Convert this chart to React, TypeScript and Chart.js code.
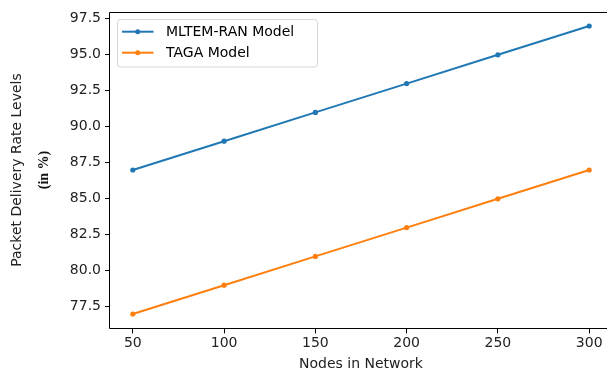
import React, { useEffect, useRef } from "react";
import { Chart, registerables } from "chart.js";

Chart.register(...registerables);

const nodes = [50, 100, 150, 200, 250, 300];
const mltemRan = [87, 89, 91, 93, 95, 97];
const taga = [77, 79, 81, 83, 85, 87];
const xTicks = [50, 100, 150, 200, 250, 300];
const yTicks = [77.5, 80, 82.5, 85, 87.5, 90, 92.5, 95, 97.5];
const seriesNames = ["MLTEM-RAN Model", "TAGA Model"];
const seriesColors = ["#1f77b4", "#ff7f0e"];

const FONT = "'DejaVu Sans', sans-serif";

const framePlugin = {
  id: "frame",
  afterDraw(chart: any) {
    const { ctx, chartArea } = chart;
    const l = Math.round(chartArea.left) - 0.5;
    const t = Math.round(chartArea.top) + 0.5;
    const b = Math.round(chartArea.bottom) + 0.5;
    ctx.save();
    ctx.strokeStyle = "#000";
    ctx.lineWidth = 1;
    ctx.beginPath();
    ctx.moveTo(chartArea.right, t);
    ctx.lineTo(l, t);
    ctx.lineTo(l, b);
    ctx.lineTo(chartArea.right, b);
    ctx.stroke();
    // second line of the y title
    ctx.translate(44, (chartArea.top + chartArea.bottom) / 2);
    ctx.rotate(-Math.PI / 2);
    ctx.fillStyle = "#111";
    ctx.font = "bold 14px 'Liberation Serif', serif";
    ctx.textAlign = "center";
    ctx.textBaseline = "middle";
    ctx.fillText("(in %)", 0, 0);
    ctx.restore();

    // legend
    const bx = 117.5, by = 19.5, bw = 200, bh = 47.5, r = 3;
    ctx.save();
    ctx.beginPath();
    ctx.moveTo(bx + r, by);
    ctx.lineTo(bx + bw - r, by);
    ctx.arcTo(bx + bw, by, bx + bw, by + r, r);
    ctx.lineTo(bx + bw, by + bh - r);
    ctx.arcTo(bx + bw, by + bh, bx + bw - r, by + bh, r);
    ctx.lineTo(bx + r, by + bh);
    ctx.arcTo(bx, by + bh, bx, by + bh - r, r);
    ctx.lineTo(bx, by + r);
    ctx.arcTo(bx, by, bx + r, by, r);
    ctx.closePath();
    ctx.fillStyle = "rgba(255,255,255,0.8)";
    ctx.fill();
    ctx.strokeStyle = "#d6d6d6";
    ctx.lineWidth = 1;
    ctx.stroke();
    const rows = [31.7, 52.7];
    chart.data.datasets.forEach((ds: any, i: number) => {
      const y = rows[i];
      ctx.strokeStyle = ds.borderColor;
      ctx.lineWidth = 2;
      ctx.beginPath();
      ctx.moveTo(122, y);
      ctx.lineTo(153.5, y);
      ctx.stroke();
      ctx.fillStyle = ds.borderColor;
      ctx.beginPath();
      ctx.arc(137.7, y, 2.5, 0, Math.PI * 2);
      ctx.fill();
      ctx.fillStyle = "#000";
      ctx.font = "14px " + FONT;
      ctx.textAlign = "left";
      ctx.textBaseline = "middle";
      ctx.fillText(ds.label, 166, y + 0.5);
    });
    ctx.restore();
  },
};

export default function App() {
  const ref = useRef<HTMLCanvasElement>(null);
  useEffect(() => {
    if (!ref.current) return;
    const chart = new Chart(ref.current, {
      type: "line",
      data: {
        datasets: [mltemRan, taga].map((vals, i) => ({
          label: seriesNames[i],
          data: nodes.map((n, j) => ({ x: n, y: vals[j] })),
          borderColor: seriesColors[i],
          backgroundColor: seriesColors[i],
          borderWidth: 2,
          pointRadius: 2.6,
          pointBorderWidth: 0,
          pointHoverRadius: 2.6,
          tension: 0,
          fill: false,
        })),
      },
      options: {
        animation: false,
        responsive: false,
        events: [],
        layout: { padding: { top: 11.6, right: 8, left: 0, bottom: 0 } },
        plugins: {
          legend: { display: false },
          tooltip: { enabled: false },
        },
        scales: {
          x: {
            type: "linear",
            min: 37.5,
            max: 312.5,
            afterBuildTicks: (s: any) => {
              s.ticks = xTicks.map((v) => ({ value: v }));
            },
            afterFit: (s: any) => {
              s.height = 44.6;
              s.paddingLeft = 0;
              s.paddingRight = 0;
            },
            grid: {
              drawOnChartArea: false,
              drawTicks: true,
              tickLength: 5,
              tickColor: "#000",
              lineWidth: 1,
            },
            border: { display: false },
            ticks: {
              color: "#222",
              font: { family: FONT, size: 14 },
              padding: 2,
              maxRotation: 0,
              callback: (v: any) => String(v),
            },
            title: {
              display: true,
              text: "Nodes in Network",
              color: "#222",
              font: { family: FONT, size: 14, lineHeight: 1.2 },
              padding: { top: 0, bottom: 0 },
            },
          },
          y: {
            type: "linear",
            min: 76,
            max: 98,
            afterBuildTicks: (s: any) => {
              s.ticks = yTicks.map((v) => ({ value: v }));
            },
            afterFit: (s: any) => {
              s.width = 110;
              s.paddingTop = 0;
              s.paddingBottom = 0;
            },
            grid: {
              drawOnChartArea: false,
              drawTicks: true,
              tickLength: 5,
              tickColor: "#000",
              lineWidth: 1,
            },
            border: { display: false },
            ticks: {
              color: "#222",
              font: { family: FONT, size: 14 },
              padding: 4,
              callback: (v: any) => Number(v).toFixed(1),
            },
            title: {
              display: true,
              text: "Packet Delivery Rate Levels",
              color: "#222",
              font: { family: FONT, size: 14, lineHeight: 1.2 },
              padding: { top: 8.6, bottom: 0 },
            },
          },
        },
      },
      plugins: [framePlugin],
    });
    return () => chart.destroy();
  }, []);
  return (
    <div
      style={{
        position: "fixed",
        left: 0,
        top: 0,
        width: 607,
        height: 373,
        overflow: "hidden",
        background: "#fff",
      }}
    >
      <canvas ref={ref} width={620} height={373} style={{ display: "block" }} />
    </div>
  );
}
